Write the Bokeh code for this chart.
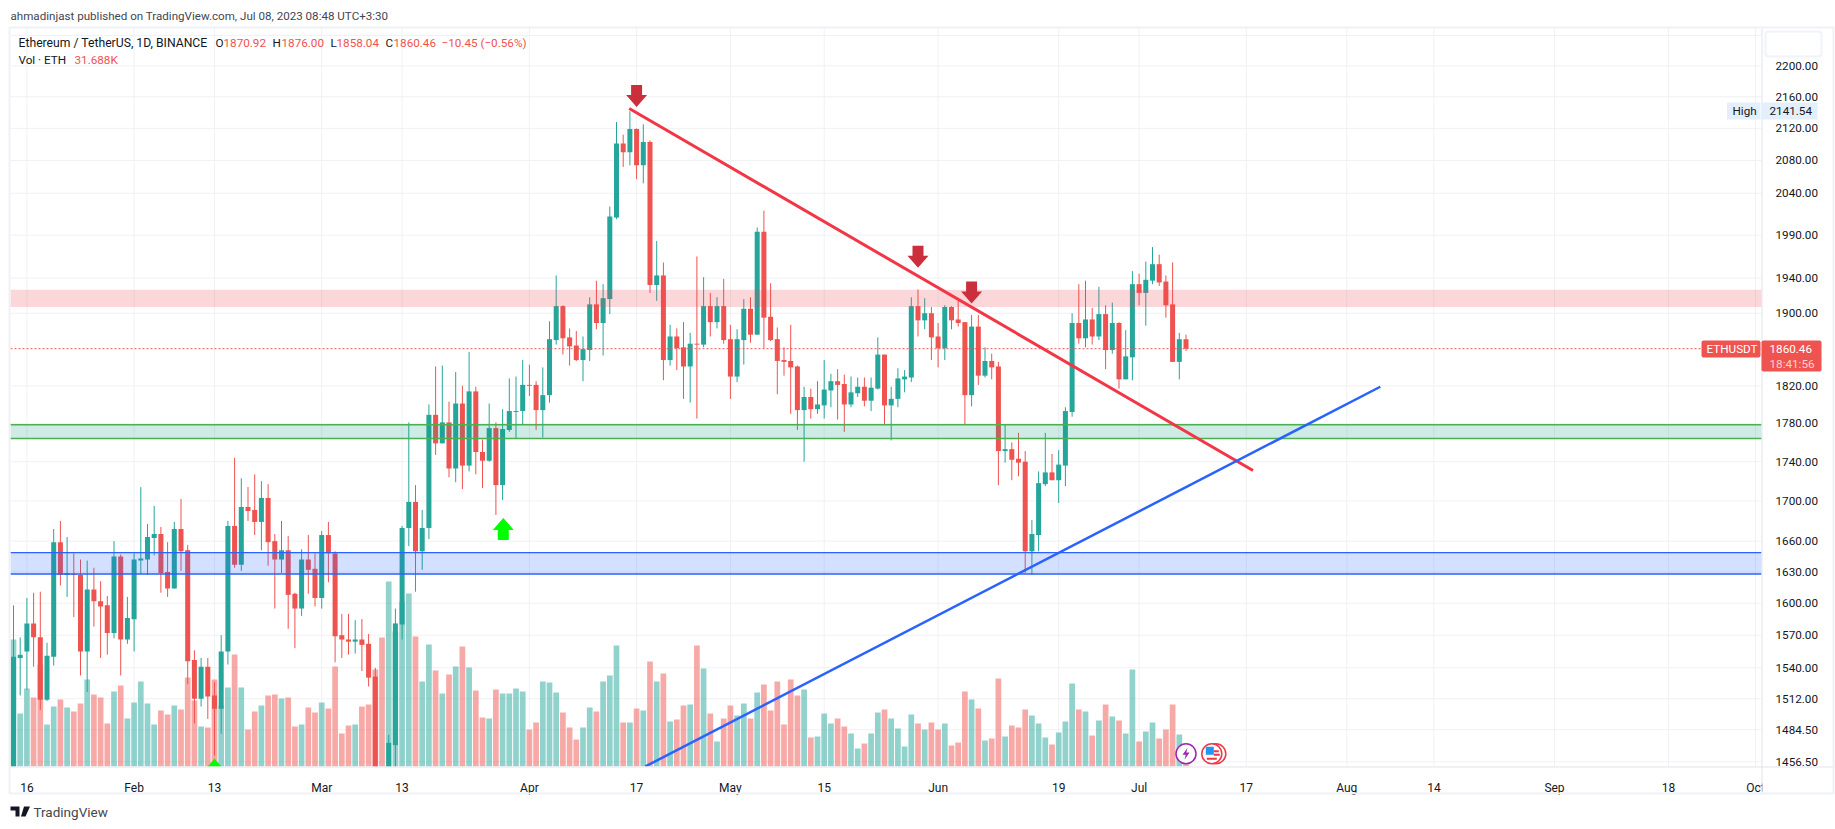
import math
from bokeh.plotting import figure
from bokeh.embed import file_html
from bokeh.resources import INLINE
from bokeh.models import (Range1d, LinearScale, FixedTicker, NumeralTickFormatter, Label,
                          BoxAnnotation, PolyAnnotation)

# Candles: [open, high, low, close], one row per day from 14 Jan 2023
ohlc = [
 [1420,1598,1416,1550],[1549,1568,1515,1552],[1555,1605,1520,1581],[1581,1610,1541,1568],[1568,1611,1502,1511],
 [1511,1563,1510,1551],[1550,1672,1542,1659],[1659,1680,1617,1627],[1627,1664,1606,1629],[1628,1648,1587,1627],
 [1627,1642,1533,1555],[1555,1641,1518,1613],[1613,1634,1578,1602],[1602,1621,1549,1597],[1598,1607,1552,1572],
 [1572,1660,1567,1645],[1645,1647,1533,1566],[1566,1606,1562,1586],[1585,1648,1555,1642],[1641,1714,1628,1643],
 [1642,1677,1627,1664],[1663,1695,1646,1667],[1667,1674,1610,1629],[1630,1659,1606,1614],[1614,1679,1614,1672],
 [1672,1702,1631,1650],[1651,1656,1525,1546],[1547,1556,1490,1512],[1512,1549,1505,1541],[1541,1549,1494,1514],
 [1515,1527,1462,1503],[1503,1570,1481,1555],[1555,1680,1543,1675],[1675,1744,1634,1637],[1637,1723,1631,1694],
 [1694,1714,1680,1690],[1691,1727,1666,1679],[1679,1720,1651,1703],[1703,1717,1636,1659],[1660,1667,1595,1642],
 [1642,1680,1629,1651],[1651,1665,1576,1608],[1609,1610,1558,1595],[1595,1652,1588,1642],[1642,1666,1609,1632],
 [1633,1648,1597,1605],[1605,1670,1595,1666],[1666,1679,1620,1648],[1648,1650,1545,1569],[1570,1590,1549,1566],
 [1566,1590,1552,1564],[1564,1584,1553,1566],[1566,1585,1537,1561],[1562,1571,1523,1531],[1532,1540,1420,1438],
 [1438,1444,1370,1429],[1430,1480,1420,1473],[1471,1595,1445,1581],[1580,1675,1566,1673],[1673,1781,1655,1699],
 [1699,1716,1611,1650],[1650,1691,1632,1673],[1673,1800,1662,1789],[1789,1841,1747,1759],[1759,1842,1759,1781],
 [1781,1803,1724,1733],[1733,1835,1719,1801],[1801,1820,1712,1736],[1736,1857,1730,1814],[1814,1819,1727,1750],
 [1750,1763,1713,1741],[1741,1801,1740,1775],[1775,1781,1686,1716],[1716,1795,1701,1774],[1773,1828,1771,1793],
 [1792,1830,1764,1793],[1793,1848,1779,1821],[1821,1843,1809,1820],[1821,1825,1773,1794],[1794,1840,1765,1810],
 [1810,1891,1802,1871],[1870,1943,1865,1908],[1908,1909,1854,1872],[1873,1883,1842,1863],[1864,1880,1847,1848],
 [1848,1874,1825,1860],[1859,1918,1847,1910],[1910,1937,1882,1889],[1889,1933,1853,1917],[1916,2024,1899,2012],
 [2011,2128,2009,2101],[2101,2112,2072,2090],[2090,2141.54,2074,2119],[2119,2120,2057,2074],[2074,2125,2052,2103],
 [2103,2105,1923,1932],[1932,1983,1914,1943],[1943,1958,1826,1848],[1848,1887,1842,1874],[1874,1883,1837,1861],
 [1862,1890,1806,1841],[1841,1878,1802,1866],[1866,1965,1785,1865],[1865,1941,1862,1908],[1908,1923,1874,1890],
 [1890,1918,1883,1908],[1908,1939,1866,1870],[1871,1887,1806,1830],[1830,1882,1824,1871],[1870,1916,1843,1905],
 [1905,1918,1867,1876],[1876,1999,1876,1994],[1994,2019,1861,1895],[1896,1934,1869,1870],[1871,1884,1811,1847],
 [1848,1862,1831,1846],[1847,1887,1790,1840],[1841,1842,1773,1794],[1794,1819,1740,1808],[1808,1817,1785,1795],
 [1795,1825,1790,1800],[1799,1848,1785,1816],[1815,1833,1797,1825],[1825,1838,1784,1821],[1822,1832,1771,1800],
 [1800,1830,1797,1813],[1812,1829,1808,1819],[1819,1829,1798,1804],[1804,1829,1793,1818],[1817,1873,1816,1854],
 [1854,1854,1778,1799],[1799,1819,1762,1806],[1806,1839,1797,1828],[1827,1837,1813,1830],[1829,1918,1824,1908],
 [1908,1927,1874,1892],[1892,1917,1882,1900],[1900,1907,1848,1873],[1874,1889,1840,1861],[1861,1909,1848,1907],
 [1907,1908,1882,1892],[1893,1914,1885,1889],[1890,1890,1779,1810],[1810,1898,1798,1885],[1885,1898,1821,1831],
 [1831,1862,1829,1847],[1847,1855,1827,1840],[1841,1846,1716,1751],[1751,1779,1739,1753],[1753,1760,1721,1742],
 [1743,1770,1725,1739],[1740,1751,1629,1650],[1650,1681,1627,1667],[1666,1730,1650,1718],[1717,1770,1715,1729],
 [1729,1748,1721,1721],[1721,1752,1698,1737],[1736,1797,1715,1793],[1792,1900,1787,1889],[1889,1933,1866,1872],
 [1872,1937,1862,1893],[1893,1906,1865,1874],[1874,1930,1870,1899],[1899,1909,1838,1859],[1859,1912,1855,1889],
 [1889,1890,1817,1827],[1827,1881,1827,1852],[1851,1948,1826,1933],[1933,1945,1909,1923],[1923,1959,1886,1938],
 [1937,1976,1933,1956],[1956,1967,1931,1935],[1936,1943,1895,1909],[1910,1958,1846,1846],[1846,1878,1827,1871],
 [1870.92,1876,1858.04,1860.46],
]

# Volume in thousands of ETH, same days
volume = [
 1016,424,624,552,816,336,480,536,472,440,504,696,576,552,344,600,648,384,512,680,
 504,336,448,416,488,456,712,528,320,312,696,488,632,896,632,296,440,488,568,576,
 544,552,320,336,472,432,512,464,800,264,328,336,480,496,776,1032,1480,1080,1320,1384,
 1040,680,976,768,584,736,800,960,792,608,392,384,616,584,584,624,600,296,352,680,
 672,592,432,312,216,312,472,440,680,728,968,352,352,464,448,840,680,744,360,376,
 488,496,968,784,424,200,384,488,408,504,384,592,656,448,680,336,696,568,616,232,
 240,424,344,384,320,264,144,184,264,432,456,384,304,160,416,344,296,352,296,344,
 168,192,600,536,464,208,224,704,240,328,312,456,408,344,232,176,272,360,664,456,
 440,248,368,496,400,368,264,776,200,280,352,224,296,496,256,31.688,
]

price_ticks = [2240,2200,2160,2120,2080,2040,1990,1940,1900,1820,1780,1740,1700,1660,1630,1600,1570,1540,1512,1484.5,1456.5]
date_ticks = [2,18,30,46,58,77,93,107,121,138,156,168,184,199,212,230,247,260]
date_labels = ["16","Feb","13","Mar","13","Apr","17","May","15","Jun","19","Jul","17","Aug","14","Sep","18","Oct"]

resistance_zone = (1907, 1926.6)
demand_zone = (1764, 1778.5)
support_zone = (1628, 1648.7)
down_trend = ([91.9, 185.0], [2145, 1731])
up_trend = ([94.3, 204.0], [1452.5, 1819])
down_arrows = ([93.0, 135.0, 143.0], [2147, 1952, 1911])
up_arrows = ([73.1, 30.0], [1683, 1459.3])
last_price = 1860.46

# geometry of the reference pane
W, H = 1835, 829
PX_PER_DAY = 6.70
PX_PER_LOG = 1687.7
PANE_L, PANE_R, PANE_B = 10, 1761, 766
DAY0_PX = 13
REF_PRICE, REF_PX = 2200, 65.3
VOL_PER_PX = 8
TEAL, RED = "#26a69a", "#ef5350"
GRID = "#f0f1f5"
FONT = "Roboto"
TXT = "#131722"
FS = 11.7


def day_at(px):
    return (px - DAY0_PX) / PX_PER_DAY


def price_at(px):
    return REF_PRICE * math.exp(-(px - REF_PX) / PX_PER_LOG)


def shift(day, price, dx, dy):
    """Move a data point by a number of screen pixels."""
    return day + dx / PX_PER_DAY, price * math.exp(-dy / PX_PER_LOG)


X0, X1 = day_at(PANE_L), day_at(PANE_R)
Y0, Y1 = price_at(PANE_B), price_at(27)

p = figure(width=W, height=H, output_backend="svg", toolbar_location=None,
           y_axis_type="log", y_axis_location="right",
           x_range=Range1d(day_at(0), day_at(W)), y_range=Range1d(price_at(H), price_at(0)),
           min_border_left=0, min_border_right=0, min_border_top=0, min_border_bottom=0)
p.background_fill_color = "white"
p.border_fill_color = "white"
p.outline_line_color = None
p.extra_y_ranges = {"vol": Range1d((PANE_B - H) * VOL_PER_PX, PANE_B * VOL_PER_PX)}
p.extra_y_scales = {"vol": LinearScale()}

p.xaxis.ticker = FixedTicker(ticks=date_ticks)
p.xaxis.major_label_overrides = dict(zip(date_ticks, date_labels))
p.yaxis.ticker = FixedTicker(ticks=price_ticks)
p.yaxis.formatter = NumeralTickFormatter(format="0.00")
p.xaxis[0].fixed_location = Y0
p.yaxis[0].fixed_location = X1
for ax, fs in ((p.xaxis[0], 12), (p.yaxis[0], FS)):
    ax.axis_line_color = None
    ax.major_tick_line_color = None
    ax.minor_tick_line_color = None
    ax.major_label_text_color = TXT
    ax.major_label_text_font = FONT
    ax.major_label_text_font_size = f"{fs}px"
    ax.major_label_standoff = 8
p.xgrid.grid_line_color = None
p.ygrid.grid_line_color = None

# grid restricted to the pane
p.segment(x0=date_ticks, x1=date_ticks, y0=[Y0] * len(date_ticks), y1=[Y1] * len(date_ticks), line_color=GRID, line_width=1)
p.segment(x0=[X0] * len(price_ticks), x1=[X1] * len(price_ticks), y0=price_ticks, y1=price_ticks, line_color=GRID, line_width=1)

days = list(range(len(ohlc)))
opens = [r[0] for r in ohlc]
highs = [r[1] for r in ohlc]
lows = [r[2] for r in ohlc]
closes = [r[3] for r in ohlc]
colors = [TEAL if c > o else RED for o, c in zip(opens, closes)]

p.vbar(x=days, top=volume, bottom=0, width=0.85, color=colors, alpha=0.5, line_color=None, y_range_name="vol")
p.segment(x0=days, x1=days, y0=lows, y1=highs, color=colors, line_width=1)
p.vbar(x=days, top=[max(a, b) for a, b in zip(opens, closes)], bottom=[min(a, b) for a, b in zip(opens, closes)],
       width=0.75, fill_color=colors, line_color=None)

# price line
p.segment(x0=[X0], x1=[X1], y0=[last_price], y1=[last_price], line_color=RED, line_dash="2 2", line_width=1)

# zones
p.quad(left=[X0], right=[X1], bottom=[resistance_zone[0]], top=[resistance_zone[1]],
       fill_color="#f23645", fill_alpha=0.2, line_color=None)
p.quad(left=[X0], right=[X1], bottom=[demand_zone[0]], top=[demand_zone[1]],
       fill_color="#089981", fill_alpha=0.2, line_color=None)
p.quad(left=[X0], right=[X1], bottom=[support_zone[0]], top=[support_zone[1]],
       fill_color="#2962ff", fill_alpha=0.2, line_color=None)
for zone, col in ((demand_zone, "#4caf50"), (support_zone, "#2962ff")):
    p.segment(x0=[X0, X0], x1=[X1, X1], y0=list(zone), y1=list(zone), line_color=col, line_width=1.4)

# trend lines
p.line(x=down_trend[0], y=down_trend[1], line_color="#f23645", line_width=3)
p.line(x=up_trend[0], y=up_trend[1], line_color="#2962ff", line_width=2.5)

# arrows
DOWN = [(-5.5, -22), (5.5, -22), (5.5, -12), (10.5, -12), (0, 0), (-10.5, -12), (-5.5, -12)]
UP = [(-5.5, 22), (5.5, 22), (5.5, 12), (10.5, 12), (0, 0), (-10.5, 12), (-5.5, 12)]


def polygons(days_, prices, shape):
    xs, ys = [], []
    for d, q in zip(days_, prices):
        pts = [shift(d, q, dx, dy) for dx, dy in shape]
        xs.append([a for a, _ in pts])
        ys.append([b for _, b in pts])
    return xs, ys


xs, ys = polygons(down_arrows[0], down_arrows[1], DOWN)
p.patches(xs, ys, fill_color="#cc2f3c", line_color=None)
xs, ys = polygons(up_arrows[0], up_arrows[1], UP)
p.patches(xs, ys, fill_color="#00ff00", line_color=None)

# event icons
p.scatter(x=[179.45, 178.85], y=[1463.5, 1463.5], size=20, marker="circle",
          fill_color="white", line_color="#f23645", line_width=1.5)
fx, fy = 178.85, 1463.5
canton = [shift(fx, fy, a, b) for a, b in [(-6, -7), (2, -7), (2, 1), (-6, 1)]]
p.patch([a for a, _ in canton], [b for _, b in canton], fill_color="#2196f3", line_color=None)
for y_off, x_a, x_b in [(-2.5, 2, 7), (1, 2, 8), (5, -5, 5)]:
    s = [shift(fx, fy, x_a, y_off), shift(fx, fy, x_b, y_off)]
    p.line([a for a, _ in s], [b for _, b in s], line_color="#f23645", line_width=2)
p.scatter(x=[175], y=[1463.5], size=20, marker="circle", fill_color="white", line_color="#9c27b0", line_width=1.5)
BOLT = [(1.5, -6), (-3.5, 1), (-0.3, 1), (-1.5, 6), (3.5, -1.2), (0.3, -1.2)]
xs, ys = polygons([175], [1463.5], BOLT)
p.patches(xs, ys, fill_color="#9c27b0", line_color=None)

# everything below the pane is hidden, as the pane clips its marks
p.quad(left=[day_at(0)], right=[day_at(W)], bottom=[price_at(H)], top=[Y0], fill_color="white", line_color=None)


def box(left, right, top, bottom, fill=None, line=None, lw=1, radius=0):
    p.add_layout(BoxAnnotation(left=left, right=right, top=top, bottom=bottom,
                               left_units="canvas", right_units="canvas", top_units="canvas", bottom_units="canvas",
                               fill_color=fill, fill_alpha=1 if fill else 0, line_color=line, line_width=lw,
                               line_alpha=1 if line else 0, border_radius=radius, level="annotation", editable=False))


def text(x, y, s, color=TXT, size=FS, align="left", weight="normal", alpha=1.0):
    p.add_layout(Label(x=x, y=y, x_units="canvas", y_units="canvas", text=s, text_color=color,
                       text_font=FONT, text_font_size=f"{size}px", text_align=align, text_baseline="middle",
                       text_font_style=weight, text_alpha=alpha, level="annotation"))


# frame chrome
box(1762, 1832, 767, 792, fill="white")
box(10, 1833, 766, 767, fill="#e0e3eb")
box(1761, 1762, 28, 793, fill="#e0e3eb")
box(9, 1833, 27, 793, line="#f0f1f6", lw=2)
box(1765, 1821, 31, 56, fill="white", line="#f0f3fa", lw=2, radius=3)

# price tags
box(1726.5, 1760, 102, 119, fill="#e3effd")
box(1761, 1817, 102, 119, fill="#e3effd")
text(1732, 110.5, "High")
text(1769, 110.5, "2141.54")
box(1701, 1760, 340, 357, fill=RED, radius=2)
box(1761, 1821, 340, 371, fill=RED, radius=2)
text(1706, 348.5, "ETHUSDT", color="white")
text(1769, 348.5, "1860.46", color="white")
text(1769, 363, "18:41:56", color="white", alpha=0.75)

# header and legend
text(10, 15, "ahmadinjast published on TradingView.com, Jul 08, 2023 08:48 UTC+3:30", color="#434651", size=11.6)
text(18, 42, "Ethereum / TetherUS, 1D, BINANCE", size=12.2)
for x, s, c in [(215, "O", TXT), (223, "1870.92", RED), (272, "H", TXT), (281, "1876.00", RED), (330, "L", TXT),
                (336, "1858.04", RED), (385, "C", TXT), (393, "1860.46", RED), (441, "\u221210.45 (\u22120.56%)", RED)]:
    text(x, 42, s, color=c)
text(18, 59, "Vol \u00b7 ETH")
text(74, 59, "31.688K", color=RED)

# TradingView mark
for xs_, ys_ in [([10, 19, 19, 15, 15, 10], [806, 806, 816, 816, 810, 810]),
                 ([23.5, 29.5, 25, 20.5], [806, 806, 816, 816])]:
    p.add_layout(PolyAnnotation(xs=xs_, ys=ys_, xs_units="canvas", ys_units="canvas",
                                fill_color="#131722", fill_alpha=1, line_color=None, level="annotation", editable=False))
text(33, 811, "TradingView", color="#434651", size=13.5)

open("out.html", "w").write(file_html(p, INLINE))
